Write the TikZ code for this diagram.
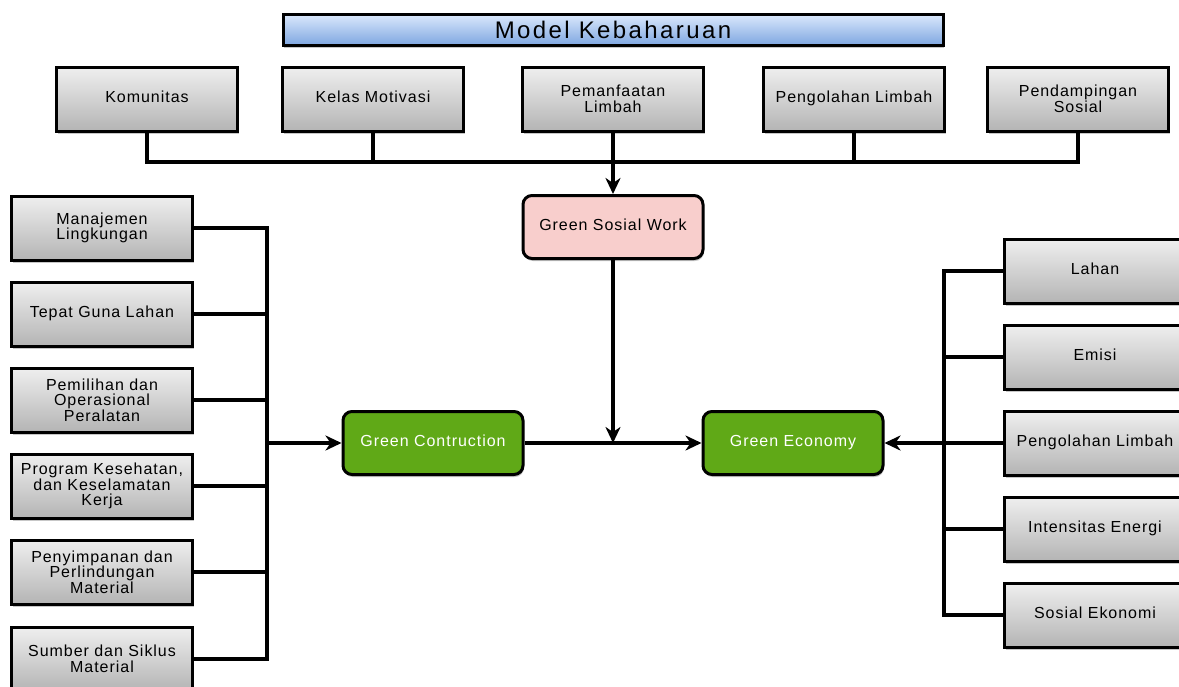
\documentclass[tikz,border=0pt]{standalone}
\usepackage{fontspec}
\setmainfont{Liberation Sans}
\newfontfamily\boxfont[LetterSpace=6]{Liberation Sans}
\newfontfamily\titlefont[LetterSpace=10]{Liberation Sans}
\usetikzlibrary{arrows.meta,shadows}
\definecolor{boxtop}{HTML}{EFEFEF}
\definecolor{boxbot}{HTML}{B4B4B4}
\definecolor{titletop}{HTML}{DAE8FC}
\definecolor{titlebot}{HTML}{7EA6E0}
\definecolor{greenfill}{HTML}{60A917}
\definecolor{pinkfill}{HTML}{F8CECC}
\begin{document}
\begin{tikzpicture}[x=1pt,y=-1pt,
  basebox/.style={draw=black, line width=3pt, align=center,
    general shadow={shadow xshift=1pt, shadow yshift=-2.5pt, fill=black, opacity=0.22},
    font=\boxfont\fontsize{16}{15.5}\selectfont, inner sep=2pt},
  oneline/.style={text height=0.72em, text depth=0pt},
  graybox/.style={basebox, top color=boxtop, bottom color=boxbot,
    minimum width=181pt, minimum height=64pt},
  greenbox/.style={basebox, oneline, fill=greenfill, text=white, rounded corners=9pt,
    minimum width=180pt, minimum height=63pt},
  pinkbox/.style={basebox, oneline, fill=pinkfill, rounded corners=9pt,
    minimum width=180pt, minimum height=63pt},
  titlebox/.style={draw=black, line width=3pt, top color=titletop, bottom color=titlebot,
    minimum width=660pt, minimum height=31pt, inner sep=0pt,
    general shadow={shadow xshift=1pt, shadow yshift=-2.5pt, fill=black, opacity=0.22},
    font=\titlefont\fontsize{24}{24}\selectfont},
  conn/.style={draw=black, line width=3.2pt},
  arr/.style={conn, -{Stealth[length=16pt,width=15pt,inset=5pt]}}
]
\useasboundingbox (0,0) rectangle (1179,686);

% title
\node[titlebox] (title) at (613,30) {Model Kebaharuan};

% top row
\node[graybox, oneline] (kom)  at (147,99)  {Komunitas};
\node[graybox, oneline] (kel)  at (373,99)  {Kelas Motivasi};
\node[graybox] (pem)  at (613,99)  {Pemanfaatan\\Limbah};
\node[graybox, oneline] (peng) at (854,99)  {Pengolahan Limbah};
\node[graybox] (pend) at (1078,99) {Pendampingan\\Sosial};

% centre
\node[pinkbox]  (gsw) at (613,227) {Green Sosial Work};
\node[greenbox] (gc)  at (433,443) {Green Contruction};
\node[greenbox] (ge)  at (793,443) {Green Economy};

% left column
\node[graybox] (l1) at (102,228) {Manajemen\\Lingkungan};
\node[graybox, oneline] (l2) at (102,314) {Tepat Guna Lahan};
\node[graybox] (l3) at (102,400) {Pemilihan dan\\Operasional\\Peralatan};
\node[graybox] (l4) at (102,486) {Program Kesehatan,\\dan Keselamatan\\Kerja};
\node[graybox] (l5) at (102,572) {Penyimpanan dan\\Perlindungan\\Material};
\node[graybox] (l6) at (102,659) {Sumber dan Siklus\\Material};

% right column
\node[graybox, oneline] (r1) at (1095,271) {Lahan};
\node[graybox, oneline] (r2) at (1095,357) {Emisi};
\node[graybox, oneline] (r3) at (1095,443) {Pengolahan Limbah};
\node[graybox, oneline] (r4) at (1095,529) {Intensitas Energi};
\node[graybox, oneline] (r5) at (1095,615) {Sosial Ekonomi};

% top bus
\coordinate (bus) at (613,162);
\draw[conn] (kom.south) |- (bus) -| (pend.south);
\draw[conn] (kel.south) -- (kel.south |- bus);
\draw[conn] (peng.south) -- (peng.south |- bus);
\draw[arr] (pem.south) -- (gsw.north);

% centre connectors
\draw[arr] (gsw.south) -- (gsw.south |- gc.east);
\draw[arr] (gc.east) -- (ge.west);

% left bus
\coordinate (lb) at (267,443);
\draw[conn] (l1.east) -| (lb |- l6.east) -- (l6.east);
\draw[conn] (l2.east) -- (l2.east -| lb);
\draw[conn] (l3.east) -- (l3.east -| lb);
\draw[conn] (l4.east) -- (l4.east -| lb);
\draw[conn] (l5.east) -- (l5.east -| lb);
\draw[arr] (lb) -- (gc.west);

% right bus
\coordinate (rb) at (944,443);
\draw[conn] (r1.west) -| (rb |- r5.west) -- (r5.west);
\draw[conn] (r2.west) -- (r2.west -| rb);
\draw[conn] (r4.west) -- (r4.west -| rb);
\draw[arr] (r3.west) -- (ge.east);
\end{tikzpicture}
\end{document}
